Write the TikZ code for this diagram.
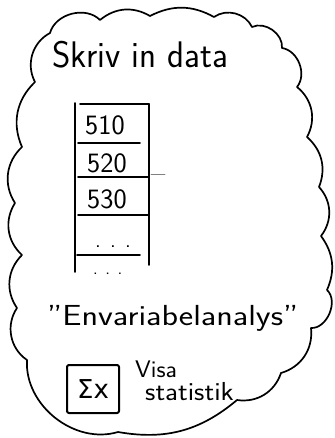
\documentclass[tikz,border=0pt]{standalone}
\usepackage{fontspec}
\newfontfamily\dv{DejaVu Sans}
\begin{document}
\begin{tikzpicture}[x=1pt,y=-1pt, line cap=round, line join=round,
  ink/.style={line width=1.7pt, black},
  tbl/.style={line width=1.8pt, black},
  hand/.style={inner sep=0pt, anchor=base west},
  fs/.style={font=\sffamily\fontsize{#1}{#1}\selectfont}]
\useasboundingbox (0,0) rectangle (334,438);
% cloud outline
\draw[ink] (35,82) to[bend left=45] (50,33) to[bend left=60] (100,20)
  to[bend left=35] (150,16) to[bend left=28] (214,17) to[bend left=50] (252,27)
  to[bend left=60] (282,48) to[bend left=60] (297,87) to[bend left=40] (307,137)
  to[bend left=35] (319,187) to[bend left=40] (321,236) to[bend left=30] (327,290)
  to[bend left=70] (311,328) to[bend left=40] (281,373) to[bend left=40] (237,400)
  to[bend left=25] (118,432) to[bend left=55] (27,360) to[bend left=45] (17,308)
  to[bend left=40] (22,255) to[bend left=40] (15,203) to[bend left=40] (22,147)
  to[bend left=35] (35,82);
% title
\node[hand, fs=37, xscale=0.95] (title) at (52,68) {Skriv in data};
% table
\coordinate (tl) at (75,103); \coordinate (bl) at (75,272);
\coordinate (tr) at (149,104); \coordinate (br) at (149,265);
\draw[tbl] (tl) -- (bl);
\draw[tbl] (tr) -- (br);
\draw[tbl] (80,104) -- (tr);
\coordinate (h1a) at (78,143); \coordinate (h1b) at (140,143);
\coordinate (h2a) at (78,177); \coordinate (h2b) at (148,177);
\coordinate (h3a) at (78,215); \coordinate (h3b) at (148,215);
\coordinate (h4a) at (77,255); \coordinate (h4b) at (140,255);
\draw[tbl] (h1a) -- (h1b);
\draw[tbl] (h2a) -- (h2b);
\draw[tbl] (h3a) -- (h3b);
\draw[tbl] (h4a) -- (h4b);
\coordinate (tk1) at (151,174); \coordinate (tk2) at (165,174);
\draw[gray, line width=0.6pt] (tk1) -- (tk2);
\node[hand, fs=28] (r1) at (85,135) {510};
\node[hand, fs=28] (r2) at (87,172) {520};
\node[hand, fs=28] (r3) at (87,208) {530};
\node[hand, fs=22] (r4) at (95,247) {. . .};
\node[hand, fs=18] (r5) at (93,274) {. . .};
% menu title
\node[hand, fs=29, xscale=1.18] (env) at (47,325) {"Envariabelanalys"};
% sum box
\node[draw, line width=2pt, rounded corners=2pt, minimum width=52pt,
  minimum height=48pt, inner sep=0pt, font=\dv\fontsize{26}{26}\selectfont]
  (sum) at (93,389) {Σx};
\node[hand, fs=24, xscale=1.05] (visa) at (135,377) {Visa};
\node[hand, fs=26, xscale=1.1] (stat) at (145,400) {statistik};
\end{tikzpicture}
\end{document}
